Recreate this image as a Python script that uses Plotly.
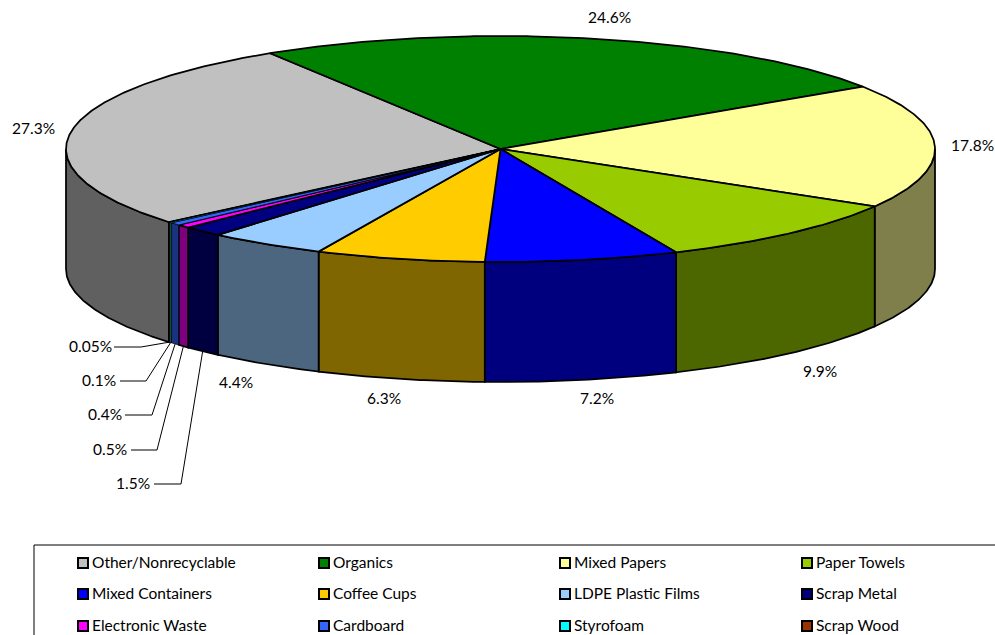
import math
import plotly.graph_objects as go

categories = ["Other/Nonrecyclable", "Organics", "Mixed Papers", "Paper Towels",
              "Mixed Containers", "Coffee Cups", "LDPE Plastic Films", "Scrap Metal",
              "Electronic Waste", "Cardboard", "Styrofoam", "Scrap Wood"]
values = [27.3, 24.6, 17.8, 9.9, 7.2, 6.3, 4.4, 1.5, 0.5, 0.4, 0.1, 0.05]
value_labels = ["27.3%", "24.6%", "17.8%", "9.9%", "7.2%", "6.3%", "4.4%", "1.5%",
                "0.5%", "0.4%", "0.1%", "0.05%"]
colors = ["#C0C0C0", "#008000", "#FFFF99", "#99CC00", "#0000FF", "#FFCC00",
          "#99CCFF", "#000080", "#FF00FF", "#3366FF", "#00FFFF", "#993300"]

# projection of the tilted pie, in pixels
CX, CY, RX, RY, DEPTH = 500.5, 149.0, 434.5, 113.0, 120.0
START = 229.75
FONT = "Lato"
FS = 15.5

# label centres (pixels); leader elbows for the small slices
label_pos = {0: (33, 128), 1: (609, 17), 2: (972, 145), 3: (820, 371), 4: (597, 398),
             5: (384, 398), 6: (236, 382), 7: (133, 483), 8: (110, 449), 9: (105, 414),
             10: (99, 380), 11: (90, 346)}
leader_y = {7: 484, 8: 450, 9: 415, 10: 381, 11: 347}
leader_x = {7: (154, 181), 8: (131, 157), 9: (125, 152), 10: (120, 146), 11: (114, 141)}


def pt(deg, dy=0.0):
    a = math.radians(deg)
    return CX + RX * math.sin(a), CY - RY * math.cos(a) + dy


def darker(h):
    r, g, b = (int(h[i:i + 2], 16) for i in (1, 3, 5))
    return "#%02X%02X%02X" % (r // 2, g // 2, b // 2)


total = sum(values)
bounds = [START]
for v in values:
    bounds.append(bounds[-1] + 360.0 * v / total)


def arc(a, b):
    n = max(2, int(abs(b - a) * 2) + 1)
    return [a + (b - a) * i / (n - 1) for i in range(n)]


def edge(i):
    return dict(color="black", width=0.75 if values[i] <= 0.4 else 1.75)


fig = go.Figure()

# side walls: only the front half (90..270 deg, modulo 360) is visible
for i, c in enumerate(categories):
    a, b = bounds[i], bounds[i + 1]
    for off in (0, -360):
        lo, hi = max(a + off, 90), min(b + off, 270)
        if hi > lo:
            ang = arc(lo, hi)
            top = [pt(t) for t in ang]
            bot = [pt(t, DEPTH) for t in reversed(ang)]
            poly = top + bot + top[:1]
            fig.add_trace(go.Scatter(x=[p[0] for p in poly], y=[p[1] for p in poly],
                                     mode="lines", fill="toself", fillcolor=darker(colors[i]),
                                     line=edge(i), showlegend=False, hoverinfo="skip"))

# top faces
for i, c in enumerate(categories):
    ang = arc(bounds[i], bounds[i + 1])
    poly = [(CX, CY)] + [pt(t) for t in ang] + [(CX, CY)]
    fig.add_trace(go.Scatter(x=[p[0] for p in poly], y=[p[1] for p in poly], name=c,
                             mode="lines", fill="toself", fillcolor=colors[i],
                             line=edge(i), showlegend=False,
                             hovertemplate=c + ": " + value_labels[i] + "<extra></extra>"))

# leader lines for the small slices
for i, (x0, x1) in leader_x.items():
    mid = (bounds[i] + bounds[i + 1]) / 2
    ex, ey = pt(mid, DEPTH)
    ly = leader_y[i]
    fig.add_trace(go.Scatter(x=[x0, x1, ex], y=[ly, ly, ey], mode="lines",
                             line=dict(color="black", width=1),
                             showlegend=False, hoverinfo="skip"))

# percentage labels
for i, t in enumerate(value_labels):
    fig.add_annotation(x=label_pos[i][0], y=label_pos[i][1], text=t, showarrow=False,
                       xanchor="center", yanchor="middle",
                       font=dict(family=FONT, size=FS, color="black"))

# legend box + entries
fig.add_shape(type="rect", x0=34, y0=545, x1=1100, y1=700,
              line=dict(color="black", width=1), fillcolor="rgba(0,0,0,0)", layer="below")
col_x = [83, 324, 565, 807]
row_y = [563, 594, 626]
for i, c in enumerate(categories):
    x = col_x[i % 4]
    y = row_y[i // 4]
    fig.add_trace(go.Scatter(x=[x], y=[y], mode="markers", showlegend=False, hoverinfo="skip",
                             marker=dict(symbol="square", size=10, color=colors[i],
                                         line=dict(color="black", width=2))))
    fig.add_annotation(x=x + 7, y=y - 1, text=c, showarrow=False, xanchor="left", yanchor="middle",
                       font=dict(family=FONT, size=FS, color="black"))

fig.update_layout(
    width=995, height=635, margin=dict(l=0, r=0, t=0, b=0),
    paper_bgcolor="white", plot_bgcolor="white", showlegend=False,
    xaxis=dict(range=[0, 995], visible=False, fixedrange=True),
    yaxis=dict(range=[635, 0], visible=False, fixedrange=True),
)
fig.write_html("out.html", config={"displayModeBar": False},
               post_script="document.body.style.margin='0';document.body.style.overflow='hidden';")
